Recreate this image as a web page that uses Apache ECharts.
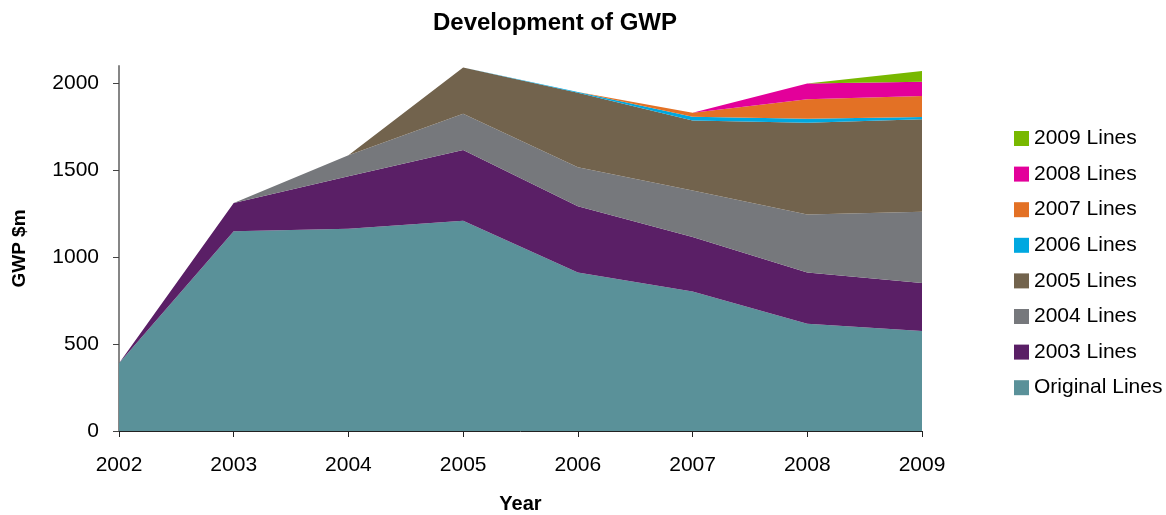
<!DOCTYPE html>
<html>
<head>
<meta charset="utf-8">
<script src="https://cdn.jsdelivr.net/npm/echarts@6/dist/echarts.min.js"></script>
<style>
  html, body { margin: 0; padding: 0; background: #fff; }
  #gwp-chart { width: 1166px; height: 515px; }
</style>
</head>
<body>
<div id="gwp-chart"></div>
<script>
// values ($m)
var years = ["2002", "2003", "2004", "2005", "2006", "2007", "2008", "2009"];
var originalLines = [390, 1149, 1163, 1210, 912, 803, 617, 576];
var lines2003 = [0, 163, 303, 406, 381, 313, 295, 275];
var lines2004 = [0, 0, 121, 209, 225, 267, 333, 410];
var lines2005 = [0, 0, 0, 266, 428, 404, 529, 532];
var lines2006 = [0, 0, 0, 0, 5, 21, 23, 13];
var lines2007 = [0, 0, 0, 0, 0, 23, 111, 121];
var lines2008 = [0, 0, 0, 0, 0, 0, 92, 83];
var lines2009 = [0, 0, 0, 0, 0, 0, 0, 61];
var yTicks = [0, 500, 1000, 1500, 2000];

var fontFamily = "Liberation Sans, Arial, sans-serif";

function areaSeries(name, color, data) {
  return {
    name: name,
    type: "line",
    stack: "gwp",
    symbol: "none",
    lineStyle: { width: 0 },
    areaStyle: { color: color, opacity: 1 },
    itemStyle: { color: color },
    emphasis: { disabled: true },
    data: data
  };
}

var option = {
  animation: false,
  textStyle: { fontFamily: fontFamily },
  title: {
    text: "Development of GWP",
    left: 550,
    textAlign: "center",
    top: 6,
    textStyle: { fontSize: 24, fontWeight: "bold", color: "#000", fontFamily: fontFamily }
  },
  grid: { left: 119, right: 244, top: 66, bottom: 84, outerBoundsMode: "none", containLabel: false },
  legend: {
    orient: "vertical",
    left: 1014,
    top: 128,
    padding: 0,
    icon: "rect",
    itemWidth: 15,
    itemHeight: 15,
    itemGap: 14.6,
    textStyle: { fontSize: 21, lineHeight: 20, color: "#000", fontFamily: fontFamily },
    data: ["2009 Lines", "2008 Lines", "2007 Lines", "2006 Lines", "2005 Lines", "2004 Lines", "2003 Lines", "Original Lines"]
  },
  xAxis: {
    type: "category",
    boundaryGap: false,
    data: years,
    name: "Year",
    nameLocation: "middle",
    nameGap: 63,
    nameTextStyle: { fontSize: 20, fontWeight: "bold", color: "#000" },
    axisLine: { lineStyle: { color: "#222", width: 1 } },
    axisTick: { show: true, length: 6, lineStyle: { color: "#222" } },
    axisLabel: { fontSize: 21, color: "#000", margin: 24 },
    splitLine: { show: false }
  },
  yAxis: {
    type: "value",
    min: 0,
    max: 2100,
    interval: 500,
    name: "GWP $m",
    nameLocation: "middle",
    nameGap: 90,
    nameRotate: 90,
    nameTextStyle: { fontSize: 19, fontWeight: "bold", color: "#000" },
    axisLine: { show: true, lineStyle: { color: "#868686", width: 2 } },
    axisTick: { show: true, length: 6, customValues: yTicks, lineStyle: { color: "#444" } },
    axisLabel: {
      fontSize: 21,
      color: "#000",
      margin: 20,
      customValues: yTicks,
      formatter: function(v) { return String(v); }
    },
    splitLine: { show: false }
  },
  series: [
    areaSeries("Original Lines", "#5A9199", originalLines),
    areaSeries("2003 Lines", "#5A1F66", lines2003),
    areaSeries("2004 Lines", "#76787C", lines2004),
    areaSeries("2005 Lines", "#72634D", lines2005),
    areaSeries("2006 Lines", "#00A8E0", lines2006),
    areaSeries("2007 Lines", "#E37125", lines2007),
    areaSeries("2008 Lines", "#E3009A", lines2008),
    areaSeries("2009 Lines", "#78B800", lines2009)
  ]
};

var myChart = echarts.init(document.getElementById("gwp-chart"));
myChart.setOption(option);
window.onresize = function() {
  myChart.resize();
};
</script>
</body>
</html>
